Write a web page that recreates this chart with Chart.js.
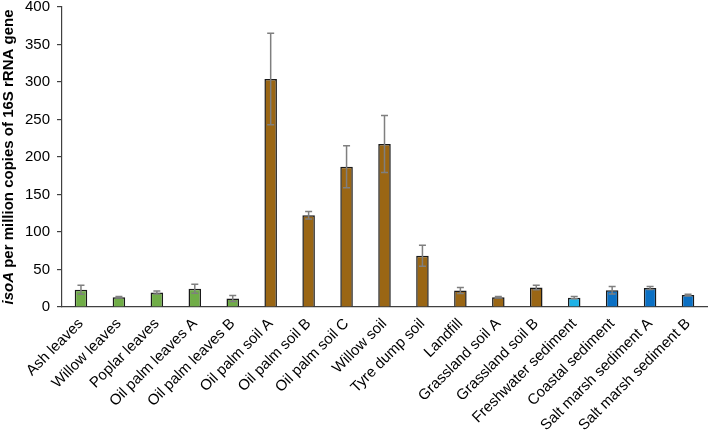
<!DOCTYPE html>
<html>
<head>
<meta charset="utf-8">
<script src="https://cdn.jsdelivr.net/npm/chart.js@4/dist/chart.umd.min.js"></script>
<style>
  html, body { margin: 0; padding: 0; background: #ffffff; }
  #wrap { width: 708px; height: 434px; }
</style>
</head>
<body>
<div id="wrap"><canvas id="c" width="708" height="434"></canvas></div>
<script>
const categories = [
  "Ash leaves", "Willow leaves", "Poplar leaves", "Oil palm leaves A", "Oil palm leaves B",
  "Oil palm soil A", "Oil palm soil B", "Oil palm soil C", "Willow soil", "Tyre dump soil",
  "Landfill", "Grassland soil A", "Grassland soil B", "Freshwater sediment", "Coastal sediment",
  "Salt marsh sediment A", "Salt marsh sediment B"
];
const values = [23, 13, 19.5, 24.5, 11.5, 304, 122.5, 187, 217.5, 68.5, 22, 13, 26, 12.5, 22.5, 25.5, 16];
const errors = [6, 1, 2, 6, 4, 61, 5, 28, 38, 14, 4, 1, 3, 1.5, 5, 2, 1];
const groups = ["leaves", "leaves", "leaves", "leaves", "leaves",
  "soil", "soil", "soil", "soil", "soil", "soil", "soil", "soil",
  "freshwater", "marine", "marine", "marine"];
const yTicks = [0, 50, 100, 150, 200, 250, 300, 350, 400];

const groupColors = { leaves: "#70AD47", soil: "#9A6614", freshwater: "#1FB2E6", marine: "#0B70C4" };

const errorBarPlugin = {
  id: "errorBars",
  afterDatasetsDraw(chart) {
    const ctx = chart.ctx;
    const meta = chart.getDatasetMeta(0);
    const ys = chart.scales.y;
    ctx.save();
    ctx.strokeStyle = "#7F7F7F";
    ctx.lineWidth = 1.5;
    meta.data.forEach((bar, i) => {
      const x = bar.x;
      const top = ys.getPixelForValue(values[i] + errors[i]);
      const bot = ys.getPixelForValue(values[i] - errors[i]);
      ctx.beginPath();
      ctx.moveTo(x, top); ctx.lineTo(x, bot);
      ctx.moveTo(x - 3.5, top); ctx.lineTo(x + 3.5, top);
      ctx.moveTo(x - 3.5, bot); ctx.lineTo(x + 3.5, bot);
      ctx.stroke();
    });
    ctx.restore();
  }
};

const yTitlePlugin = {
  id: "yTitle",
  afterDraw(chart) {
    const ctx = chart.ctx;
    const area = chart.chartArea;
    const parts = [
      { t: "isoA", f: "italic bold 15px 'Liberation Sans', Arial, sans-serif" },
      { t: " per million copies of 16S rRNA gene", f: "bold 15px 'Liberation Sans', Arial, sans-serif" }
    ];
    ctx.save();
    let total = 0;
    parts.forEach(p => { ctx.font = p.f; p.w = ctx.measureText(p.t).width; total += p.w; });
    const cy = (area.top + area.bottom) / 2;
    ctx.translate(13, cy);
    ctx.rotate(-Math.PI / 2);
    ctx.fillStyle = "#000000";
    ctx.textBaseline = "alphabetic";
    ctx.textAlign = "left";
    let x = -total / 2;
    parts.forEach(p => { ctx.font = p.f; ctx.fillText(p.t, x, 0); x += p.w; });
    ctx.restore();
  }
};

new Chart(document.getElementById("c"), {
  type: "bar",
  data: {
    labels: categories,
    datasets: [{
      data: values,
      backgroundColor: groups.map(g => groupColors[g]),
      borderColor: "#1A1A1A",
      borderWidth: 1.5,
      borderSkipped: "bottom",
      barPercentage: 0.33,
      categoryPercentage: 1.0
    }]
  },
  options: {
    responsive: false,
    animation: false,
    devicePixelRatio: 1,
    layout: { padding: { top: 7, right: 1, left: 0, bottom: 0 } },
    plugins: { legend: { display: false }, tooltip: { enabled: false } },
    scales: {
      x: {
        grid: { display: false, drawTicks: false },
        border: { display: true, color: "#404040", width: 1.2 },
        ticks: {
          color: "#000000",
          font: { family: "'Liberation Sans', Arial, sans-serif", size: 15 },
          minRotation: 45, maxRotation: 45, autoSkip: false, padding: 8
        },
        afterFit(s) { s.height = 127; s.paddingLeft = 0; s.paddingRight = 0; }
      },
      y: {
        min: 0, max: 400,
        afterBuildTicks(s) { s.ticks = yTicks.map(v => ({ value: v })); },
        grid: { drawOnChartArea: false, drawTicks: true, tickLength: 5, color: "#404040", lineWidth: 1.2 },
        border: { display: true, color: "#404040", width: 1.2 },
        ticks: {
          color: "#000000",
          font: { family: "'Liberation Sans', Arial, sans-serif", size: 15 },
          padding: 7
        },
        afterFit(s) { s.width = 62; s.paddingTop = 0; s.paddingBottom = 0; }
      }
    }
  },
  plugins: [errorBarPlugin, yTitlePlugin]
});
</script>
</body>
</html>
